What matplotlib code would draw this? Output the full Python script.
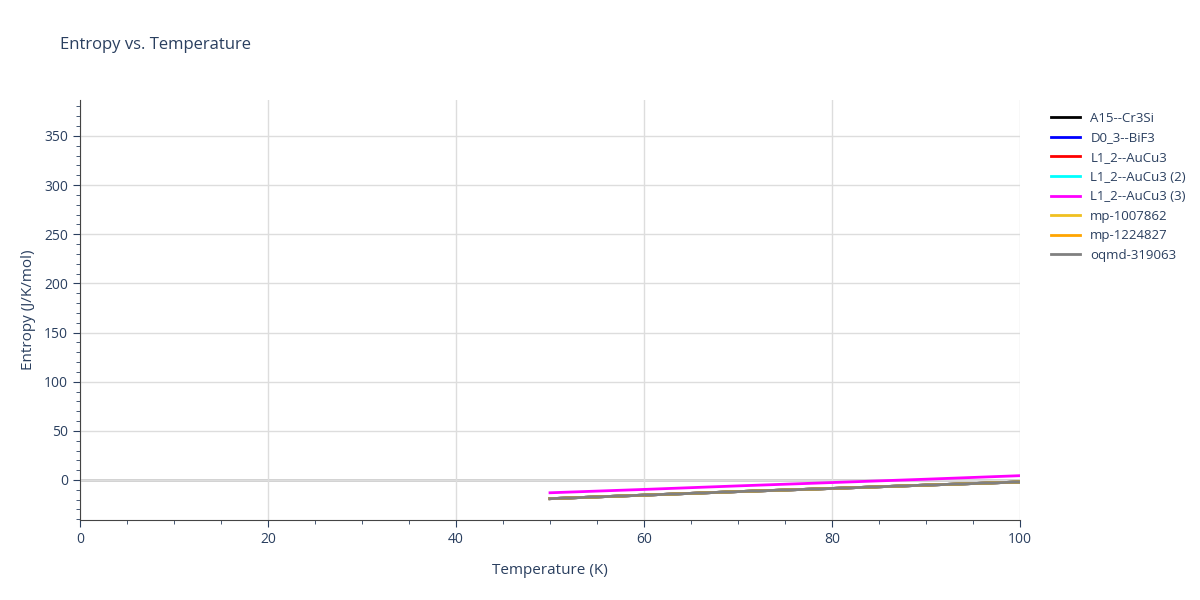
import matplotlib
matplotlib.use("Agg")
import matplotlib.pyplot as plt
from matplotlib.ticker import MultipleLocator

temps = [50, 60, 70, 80, 90, 100]
names = ["A15--Cr3Si", "D0_3--BiF3", "L1_2--AuCu3", "L1_2--AuCu3 (2)",
         "L1_2--AuCu3 (3)", "mp-1007862", "mp-1224827", "oqmd-319063"]
colors = ["black", "blue", "red", "cyan", "magenta", "#f0c020", "orange", "gray"]
low = [-19.0, -15.4, -11.8, -8.6, -5.2, -2.0]
high = [-13.0, -9.6, -6.0, -2.6, 0.8, 4.4]
series = [low, low, low, low, high, low, low, low]

plt.rcParams['font.family'] = ['Open Sans', 'DejaVu Sans']
fig = plt.figure(figsize=(12, 6), dpi=100)
ax = fig.add_axes([80/1200, 80/600, 940/1200, 420/600])
txt = "#2a3f5f"
for name, c, s in zip(names, colors, series):
    ax.plot(temps, s, color=c, lw=2, label=name)
ax.set_xlim(0, 100)
ax.set_ylim(-40.7, 386.6)
ax.xaxis.set_major_locator(MultipleLocator(20))
ax.xaxis.set_minor_locator(MultipleLocator(5))
ax.yaxis.set_major_locator(MultipleLocator(50))
ax.yaxis.set_minor_locator(MultipleLocator(10))
ax.grid(True, color="#dddddd", lw=1)
ax.axhline(0, color="#cccccc", lw=2, zorder=0)
for sp in ["top", "right"]:
    ax.spines[sp].set_visible(False)
ax.spines["left"].set_color("#444444")
ax.spines["bottom"].set_color("#444444")
ax.tick_params(colors=txt, labelsize=10, which="both")
ax.tick_params(which="major", length=5)
ax.tick_params(which="minor", length=3)
ax.set_xlabel("Temperature (K)", color=txt, fontsize=11, labelpad=12)
ax.set_ylabel("Entropy (J/K/mol)", color=txt, fontsize=11, labelpad=6)
fig.text(60/1200, 1 - 45/600, "Entropy vs. Temperature", color=txt, fontsize=12, va="center")
leg = ax.legend(loc="upper left", bbox_to_anchor=(1.02, 1.0), frameon=False,
                fontsize=9.5, handlelength=2.2, labelspacing=0.5)
for t in leg.get_texts():
    t.set_color(txt)
fig.savefig("out.png", dpi=100)
